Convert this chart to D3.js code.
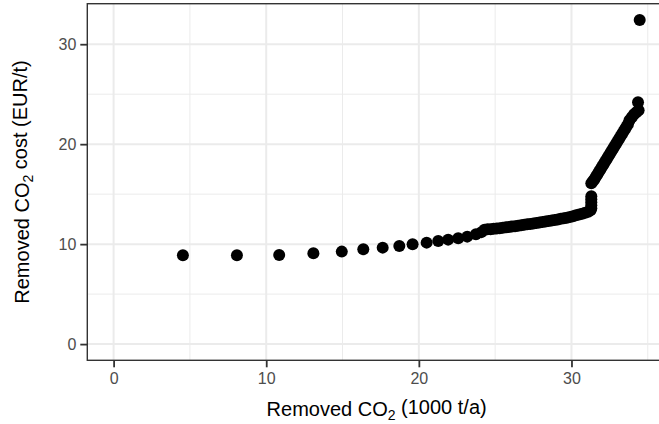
<!DOCTYPE html>
<html>
<head>
<meta charset="utf-8">
<script src="https://cdn.jsdelivr.net/npm/d3@7"></script>
<style>
  body { margin: 0; background: #fff; }
  svg { display: block; font-family: "Liberation Sans", Arial, sans-serif; }
</style>
</head>
<body>
<svg id="chart" width="659" height="424"></svg>
<script>
// Removed CO2 (1000 t/a) and the matching cost (EUR/t)
const removedCO2 = [
  4.54, 8.08, 10.85, 13.09, 14.95, 16.36, 17.63, 18.72, 19.59, 20.51,
  21.27, 21.92, 22.58, 23.17, 23.74, 24.1,
  24.3, 24.5, 24.7, 24.9, 25.1, 25.3, 25.5, 25.7, 25.9, 26.1,
  26.3, 26.5, 26.7, 26.9, 27.1, 27.3, 27.5, 27.7, 27.9, 28.1,
  28.3, 28.5, 28.7, 28.9, 29.1, 29.3, 29.5, 29.7, 29.9, 30.1,
  30.3, 30.5, 30.7, 30.9, 31.1, 31.25,
  31.3, 31.3, 31.3, 31.3, 31.3,
  31.3, 31.4, 31.5, 31.6, 31.7, 31.8, 31.9, 32.0, 32.1, 32.2,
  32.3, 32.4, 32.5, 32.6, 32.7, 32.8, 32.9, 33.0, 33.1, 33.2,
  33.3, 33.4, 33.5, 33.6, 33.7, 33.8, 33.95, 34.1, 34.25, 34.4,
  34.36, 34.47
];
const cost = [
  8.88, 8.88, 8.91, 9.08, 9.25, 9.48, 9.65, 9.81, 9.98, 10.15,
  10.31, 10.45, 10.58, 10.75, 10.98, 11.2,
  11.45, 11.5, 11.5, 11.53, 11.57, 11.6, 11.64, 11.68, 11.72, 11.76,
  11.8, 11.84, 11.89, 11.93, 11.98, 12.02, 12.07, 12.12, 12.16, 12.21,
  12.26, 12.31, 12.36, 12.41, 12.47, 12.53, 12.59, 12.65, 12.72, 12.8,
  12.88, 12.96, 13.05, 13.15, 13.25, 13.4,
  13.6, 13.9, 14.2, 14.5, 14.8,
  16.1, 16.3, 16.5, 16.75, 17.0, 17.25, 17.5, 17.75, 18.0, 18.25,
  18.5, 18.75, 19.0, 19.25, 19.5, 19.75, 20.0, 20.25, 20.5, 20.75,
  21.0, 21.25, 21.5, 21.75, 22.0, 22.4, 22.7, 23.0, 23.2, 23.4,
  24.2, 32.43
];
const xMajor = [0, 10, 20, 30];
const xMinor = [5, 15, 25, 35];
const yMajor = [0, 10, 20, 30];
const yMinor = [5, 15, 25];

const points = removedCO2.map((x, i) => ({ x: x, y: cost[i] }));

const svg = d3.select("#chart");
const panel = { left: 87.3, top: 3.7, right: 666, bottom: 360.3 };

// ggplot style: limits include 0, 5% expansion each side
function expand(lo, hi) {
    const pad = (hi - lo) * 0.05;
    return [lo - pad, hi + pad];
}
const x = d3.scaleLinear()
    .domain(expand(0, d3.max(removedCO2)))
    .range([panel.left, panel.right]);
const y = d3.scaleLinear()
    .domain(expand(0, d3.max(cost)))
    .range([panel.bottom, panel.top]);

const grid = svg.append("g");
grid.selectAll(".xminor").data(xMinor).join("line")
    .attr("x1", d => x(d)).attr("x2", d => x(d))
    .attr("y1", panel.top).attr("y2", panel.bottom)
    .attr("stroke", "#ebebeb").attr("stroke-width", 1);
grid.selectAll(".yminor").data(yMinor).join("line")
    .attr("y1", d => y(d)).attr("y2", d => y(d))
    .attr("x1", panel.left).attr("x2", panel.right)
    .attr("stroke", "#ebebeb").attr("stroke-width", 1);
grid.selectAll(".xmajor").data(xMajor).join("line")
    .attr("x1", d => x(d)).attr("x2", d => x(d))
    .attr("y1", panel.top).attr("y2", panel.bottom)
    .attr("stroke", "#ebebeb").attr("stroke-width", 2);
grid.selectAll(".ymajor").data(yMajor).join("line")
    .attr("y1", d => y(d)).attr("y2", d => y(d))
    .attr("x1", panel.left).attr("x2", panel.right)
    .attr("stroke", "#ebebeb").attr("stroke-width", 2);

// Points
svg.append("g").selectAll("circle")
    .data(points)
    .join("circle")
        .attr("cx", d => x(d.x))
        .attr("cy", d => y(d.y))
        .attr("r", 6)
        .attr("fill", "#000");

// Panel border
svg.append("rect")
    .attr("x", panel.left).attr("y", panel.top)
    .attr("width", panel.right - panel.left)
    .attr("height", panel.bottom - panel.top)
    .attr("fill", "none")
    .attr("stroke", "#333333")
    .attr("stroke-width", 1.4);

// Axes
const xAxis = svg.append("g")
    .attr("transform", `translate(0,${panel.bottom})`)
    .call(d3.axisBottom(x).tickValues(xMajor).tickSize(7).tickPadding(5).tickFormat(d3.format("d")));
const yAxis = svg.append("g")
    .attr("transform", `translate(${panel.left},0)`)
    .call(d3.axisLeft(y).tickValues(yMajor).tickSize(7).tickPadding(4).tickFormat(d3.format("d")));
[xAxis, yAxis].forEach(a => {
    a.select(".domain").remove();
    a.selectAll(".tick line").attr("stroke", "#333333").attr("stroke-width", 1.8);
    a.selectAll(".tick text")
        .attr("fill", "#4d4d4d")
        .style("font-size", "16px")
        .style("font-family", "'Liberation Sans', Arial, sans-serif");
});

// Axis titles with subscript 2
function title(sel, before, after) {
    sel.append("tspan").text(before);
    sel.append("tspan").attr("dy", "0.3em").style("font-size", "14px").text("2");
    sel.append("tspan").attr("dy", "-0.3em").text(after);
}
const xTitle = svg.append("text")
    .attr("x", (panel.left + panel.right) / 2)
    .attr("y", 416)
    .attr("text-anchor", "middle")
    .style("font-size", "20px")
    .attr("fill", "#000");
title(xTitle, "Removed CO", " (1000 t/a)");

const yTitle = svg.append("text")
    .attr("transform", `translate(29,${(panel.top + panel.bottom) / 2}) rotate(-90)`)
    .attr("text-anchor", "middle")
    .style("font-size", "20px")
    .attr("fill", "#000");
title(yTitle, "Removed CO", " cost (EUR/t)");
</script>
</body>
</html>
